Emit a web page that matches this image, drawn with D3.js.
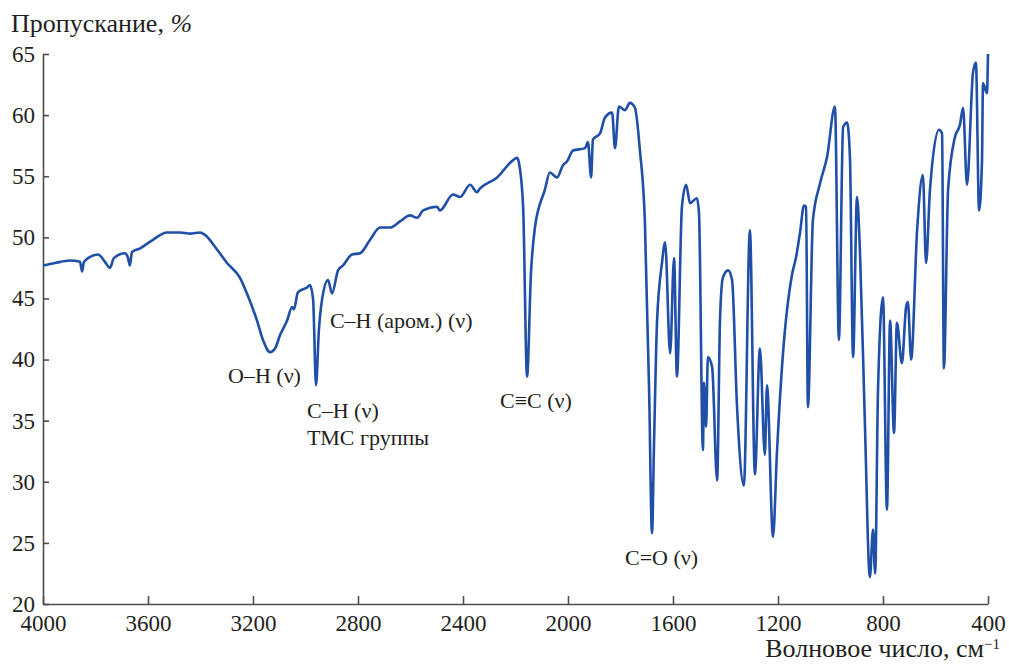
<!DOCTYPE html>
<html lang="ru">
<head>
<meta charset="UTF-8">
<title>ИК-спектр</title>
<script src="https://d3js.org/d3.v7.min.js"></script>
<style>
    body{
        margin: 0;
        background: #fff;
    }
    svg text{
        font-family: "Liberation Serif", "Times New Roman", serif;
        fill: #231f20;
    }
    .axis path, .axis line{
        stroke: #4d4d4d;
        stroke-width: 1.6;
    }
</style>
</head>
<body>
<svg id="chart" width="1009" height="665"></svg>
<script>
// wavenumber, cm-1
var wavenumber = [4000,3954,3897,3859,3851,3844,3790,3764,3745,3730,3688,3676,3669,3661,3630,3581,3528,3478,3440,3402,
    3383,3337,3299,3250,3223,3185,3162,3135,3116,3097,3070,3051,3044,3029,2994,2983,2971,2960,2949,2937,
    2914,2899,2876,2857,2823,2792,2754,2716,2678,2640,2602,2575,2552,2499,2488,2438,2411,2373,2347,2335,
    2270,2210,2194,2187,2171,2156,2141,2126,2088,2069,2042,2019,2004,1981,1935,1924,1912,1905,1878,1859,
    1832,1821,1806,1783,1764,1745,1726,1707,1691,1680,1672,1661,1642,1630,1611,1596,1585,1566,1550,1535,
    1509,1501,1486,1482,1474,1467,1451,1432,1421,1410,1390,1375,1356,1330,1307,1288,1269,1250,1242,1219,
    1204,1181,1147,1131,1116,1101,1093,1086,1067,1040,1013,983,968,952,937,926,914,899,888,869,
    850,838,830,819,800,785,773,758,747,728,712,705,693,670,648,636,621,587,575,568,
    552,526,507,495,480,457,446,434,423,419,404,400];

// transmittance, %
var transmittance = [47.7,47.9,48.1,48.0,47.2,48.0,48.6,48.0,47.5,48.3,48.7,48.3,47.7,48.8,49.1,49.8,50.4,50.4,50.3,50.4,
    50.2,49.0,47.9,46.7,45.4,43.2,41.6,40.6,40.9,42.0,43.2,44.3,44.1,45.5,45.9,46.1,44.9,37.9,42.4,44.9,
    46.5,45.4,47.3,47.7,48.6,48.7,49.8,50.8,50.8,51.3,51.8,51.6,52.2,52.5,52.2,53.5,53.3,54.3,53.7,54.0,
    54.9,56.3,56.5,56.1,52.5,38.6,47.1,50.8,53.9,55.3,54.9,55.9,56.2,57.1,57.3,57.8,54.9,58.0,58.5,59.8,
    60.2,57.3,60.7,60.4,61.0,60.6,57.1,51.2,37.5,25.8,33.4,43.0,47.9,49.6,40.5,48.3,38.6,52.5,54.3,52.8,
    53.2,52.0,32.6,38.1,34.5,40.2,39.4,30.1,43.2,46.7,47.3,46.5,36.1,29.7,50.6,30.6,40.9,32.2,37.9,25.5,
    32.4,40.5,46.9,48.4,50.4,52.6,52.5,36.1,51.4,54.4,56.6,60.7,41.6,59.0,59.4,56.6,40.2,53.3,49.0,34.8,
    22.2,26.1,22.5,37.5,45.1,27.7,43.2,34.0,43.0,39.7,44.3,44.7,40.0,50.6,55.1,47.9,53.9,58.8,58.5,39.3,
    53.9,58.2,59.2,60.6,54.3,63.5,64.3,52.2,56.1,62.6,61.8,65.0];

var xTicks = [4000,3600,3200,2800,2400,2000,1600,1200,800,400];
var yTicks = [20,25,30,35,40,45,50,55,60,65];

// band labels (position given in data units)
var notes = [
    {lines:["O\u2013H (\u03bd)"], wn:3295, t:38.1},
    {lines:["C\u2013H (\u03bd)", "ТМС группы"], wn:2994, t:35.2},
    {lines:["C\u2013H (аром.) (\u03bd)"], wn:2907, t:42.6},
    {lines:["C\u2261C (\u03bd)"], wn:2259, t:36.0},
    {lines:["C=O (\u03bd)"], wn:1783, t:23.2}
];

var margin = {top:54, right:21, bottom:61, left:43},
    width = 1009 - margin.left - margin.right,
    height = 665 - margin.top - margin.bottom;

var chart = d3.select("#chart");
var svg = chart
    .append("g")
    .attr("transform", "translate(" + margin.left + "," + margin.top + ")");

var x = d3.scaleLinear().domain([4000,400]).range([0,width]);
var y = d3.scaleLinear().domain([20,65]).range([height,0]);

svg.append("g")
    .attr("class","axis")
    .call(d3.axisLeft(y).tickValues(yTicks).tickFormat(d3.format("d"))
        .tickSizeInner(-6).tickSizeOuter(0).tickPadding(8))
    .attr("font-family", null)
    .attr("font-size", 23);

svg.append("g")
    .attr("class","axis")
    .attr("transform","translate(0," + height + ")")
    .call(d3.axisBottom(x).tickValues(xTicks).tickFormat(d3.format("d"))
        .tickSizeInner(-8).tickSizeOuter(0).tickPadding(11))
    .attr("font-family", null)
    .attr("font-size", 23);

var data = wavenumber.map(function(w,i){ return {wn:w, t:transmittance[i]}; });

var line = d3.line()
    .x(function(d){ return x(d.wn); })
    .y(function(d){ return y(d.t); })
    .curve(d3.curveMonotoneX);

svg.append("path")
    .datum(data)
    .attr("d", line)
    .attr("fill","none")
    .attr("stroke","#1f4fa6")
    .attr("stroke-width",2.6)
    .attr("stroke-linejoin","round");

// annotations
notes.forEach(function(n){
    var t = svg.append("text")
        .attr("font-size", 22)
        .attr("x", x(n.wn))
        .attr("y", y(n.t));
    n.lines.forEach(function(s,i){
        t.append("tspan")
            .attr("x", x(n.wn))
            .attr("dy", i == 0 ? 0 : 27)
            .text(s);
    });
});

// axis titles
var yTitle = chart.append("text")
    .attr("x", 11)
    .attr("y", 32)
    .attr("font-size", 26);
yTitle.append("tspan").text("Пропускание, ");
yTitle.append("tspan").attr("font-style","italic").text("%");

var xTitle = chart.append("text")
    .attr("x", 1000)
    .attr("y", 657)
    .attr("text-anchor","end")
    .attr("font-size", 26);
xTitle.append("tspan").text("Волновое число, см");
xTitle.append("tspan").attr("font-size", 15).attr("dy", -8).text("\u22121");
</script>
</body>
</html>
